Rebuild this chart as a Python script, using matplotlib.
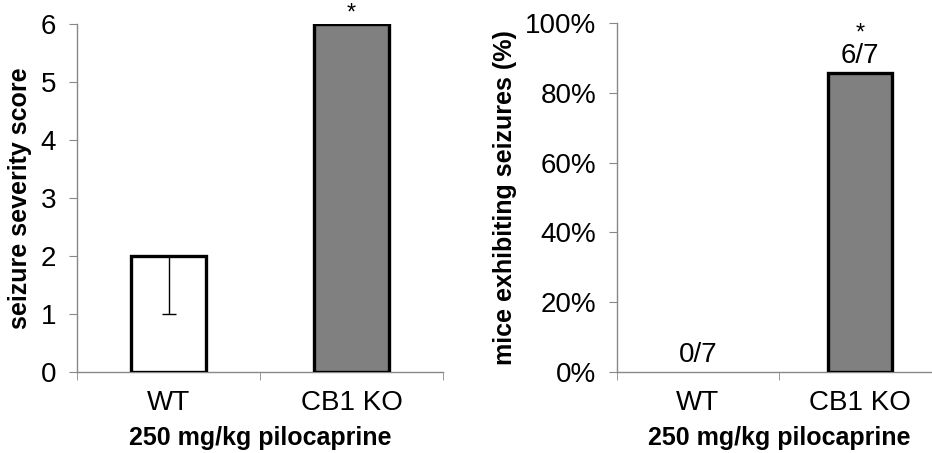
import matplotlib
matplotlib.use("Agg")
import matplotlib.pyplot as plt
from matplotlib.ticker import PercentFormatter

plt.rcParams['font.family'] = ['Liberation Sans', 'DejaVu Sans']

categories = ["WT", "CB1 KO"]
severity = [2, 6]
severity_err_low = [1, 0]
percent_seizing = [0.0, 6/7]
count_labels = ["0/7", "6/7"]
xlabel = "250 mg/kg pilocaprine"

fill_colors = ["white", "#808080"]
spine_col = "#888888"

fig = plt.figure(figsize=(9.32, 4.53), dpi=100)
W, H = 932, 453

TICK_FS = 20
LAB_FS = 18

def style(ax):
    for s in ["top", "right"]:
        ax.spines[s].set_visible(False)
    for s in ["left", "bottom"]:
        ax.spines[s].set_color(spine_col)
        ax.spines[s].set_linewidth(1.0)
    ax.tick_params(axis='y', direction='out', length=6, color=spine_col, labelsize=TICK_FS, pad=9)
    ax.tick_params(axis='x', which='major', length=0, labelsize=TICK_FS, pad=13)
    ax.tick_params(axis='x', which='minor', direction='out', length=6, color=spine_col)
    ax.set_xticks([0, 1])
    ax.set_xticklabels(categories)
    ax.set_xticks([-0.5, 0.5, 1.5], minor=True)
    ax.set_xlim(-0.5, 1.5)
    ax.set_xlabel(xlabel, fontsize=LAB_FS, fontweight='bold', labelpad=7)

# Left panel
ax1 = fig.add_axes([77/W, 1-372/H, (443-77)/W, (372-24)/H])
x = range(len(categories))
ax1.bar(x, severity, width=0.41, color=fill_colors, edgecolor='black', linewidth=2.4, zorder=3)
ax1.errorbar([0], [severity[0]], yerr=[[severity_err_low[0]], [0]], fmt='none',
             ecolor='black', elinewidth=1, capsize=5, capthick=1, zorder=4)
ax1.set_ylim(0, 6)
ax1.set_yticks(range(0, 7))
ax1.set_ylabel("seizure severity score", fontsize=LAB_FS, fontweight='bold', labelpad=6)
style(ax1)
ax1.text(1, 5.99, "*", ha='center', va='bottom', fontsize=17)

# Right panel
ax2 = fig.add_axes([617/W, 1-372/H, (941-617)/W, (372-23)/H])
edges = ['none' if v == 0 else 'black' for v in percent_seizing]
ax2.bar(x, percent_seizing, width=0.40, color=fill_colors, edgecolor=edges, linewidth=2.4, zorder=3)
ax2.set_ylim(0, 1)
ax2.set_yticks([0, 0.2, 0.4, 0.6, 0.8, 1.0])
ax2.yaxis.set_major_formatter(PercentFormatter(1.0, decimals=0))
ax2.set_ylabel("mice exhibiting seizures (%)", fontsize=LAB_FS, fontweight='bold', labelpad=6)
style(ax2)
for i, (v, lab) in enumerate(zip(percent_seizing, count_labels)):
    ax2.text(i, v + 0.012, lab, ha='center', va='bottom', fontsize=TICK_FS)
ax2.text(1, percent_seizing[1] + 0.08, "*", ha='center', va='bottom', fontsize=17)

fig.savefig("out.png", dpi=100)
